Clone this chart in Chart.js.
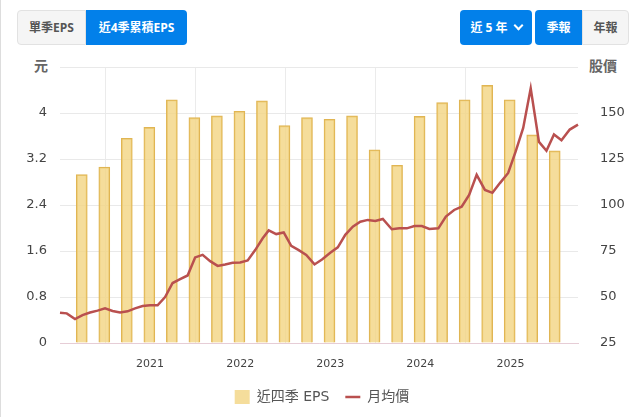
<!DOCTYPE html>
<html><head><meta charset="utf-8">
<style>
html,body{margin:0;padding:0;background:#fff;width:636px;height:417px;overflow:hidden}
body{position:relative;font-family:"DejaVu Sans","Noto Sans CJK TC",sans-serif}
#edge{position:absolute;left:0;top:0;bottom:0;width:1px;background:#dddddd}
canvas{position:absolute;left:0;top:0}
.b{position:absolute;top:10px;height:35px;line-height:35px;text-align:center;font-size:12px;font-weight:bold;box-sizing:border-box;font-family:"Open Sans","Noto Sans CJK TC",sans-serif}
.on{background:#0280ea;color:#fff}
.off{background:#f5f5f5;color:#555;border:1px solid #e2e2e2;line-height:33px}
.t{position:absolute;top:56px;font-size:14px;font-weight:bold;color:#666;font-family:"Noto Sans CJK TC",sans-serif;line-height:18px}
.chev{display:inline-block;width:5px;height:5px;border-right:2px solid #fff;border-bottom:2px solid #fff;transform:rotate(45deg);margin:0 0 3px 7px}
</style></head><body>
<div id="edge"></div>
<div class="b off" style="left:17px;width:69px;border-radius:4px 0 0 4px">單季EPS</div>
<div class="b on" style="left:86px;width:101px;border-radius:0 4px 4px 0">近4季累積EPS</div>
<div class="b on" style="left:460px;width:72px;border-radius:4px">近 5 年<span class="chev"></span></div>
<div class="b on" style="left:535px;width:47px;border-radius:4px 0 0 4px">季報</div>
<div class="b off" style="left:582px;width:47px;border-radius:0 4px 4px 0">年報</div>
<div class="t" style="left:34px">元</div>
<div class="t" style="left:589px">股價</div>
<canvas id="c" width="636" height="417" style="width:636px;height:417px"></canvas>
<script src="https://cdn.jsdelivr.net/npm/chart.js@4/dist/chart.umd.min.js"></script>
<script>
// months are counted from January 2020
const yearStart = 2020;
const epsMonths = [2.9,5.9,8.9,11.9,14.9,17.9,20.9,23.9,26.9,29.9,32.9,35.9,38.9,41.9,44.9,47.9,50.9,53.9,56.9,59.9,62.9,65.9];
const epsValues = [2.93,3.06,3.56,3.75,4.23,3.92,3.95,4.03,4.21,3.78,3.92,3.89,3.95,3.36,3.09,3.94,4.18,4.23,4.48,4.23,3.62,3.34];
const priceMonths = [0,0.9,2,3,4,5,6,7,8,9,10,11,12,13,14,15,16,17,18,19,20,21,22,23,24,25,26,27,27.8,28.8,29.8,30.8,31.8,32.8,33.9,34.9,36,37,38,39,40,41,42,43,44.2,45.2,46.2,47.2,48.2,49.2,50.4,51.4,52.5,53.5,54.5,55.5,56.6,57.6,58.6,59.7,60.7,61.7,62.7,63.8,64.8,65.8,66.8,67.9,69];
const priceValues = [41.5,41.1,38,40.2,41.6,42.6,43.8,42.4,41.6,42.2,43.8,45.1,45.5,45.5,50,57.6,59.7,61.7,71.5,72.9,69.5,66.9,67.7,68.6,68.8,69.9,75.5,81.9,86.2,84.2,85.1,77.8,75.5,72.9,67.7,70.4,74,77,83.8,88.2,90.9,91.9,91.3,92.4,86.8,87.3,87.3,88.6,88.6,87,87.3,93.7,97.3,99.1,105.5,116.4,108.2,106.6,111.9,117.4,129.1,141.9,163.4,134.3,129.5,138.3,135.2,141,143.7];
const epsLabel = "近四季 EPS", priceLabel = "月均價";
const epsTicks = {min:0,max:4.8,step:0.8}, priceTicks = {min:25,max:175,step:25};
const tickFont = {family:'"DejaVu Sans"',size:13};
const pair = (xs,ys)=>xs.map((x,i)=>({x,y:ys[i]}));
new Chart(document.getElementById('c'),{
  data:{datasets:[
    {type:'line',label:priceLabel,data:pair(priceMonths,priceValues),yAxisID:'y2',borderColor:'#b9504f',backgroundColor:'#b9504f',borderWidth:2.5,pointRadius:0,tension:0,order:1,pointStyle:'line',clip:false},
    {type:'bar',label:epsLabel,data:pair(epsMonths,epsValues),yAxisID:'y',backgroundColor:'rgba(242,212,130,0.8)',borderColor:'#e0b553',borderWidth:1.2,barThickness:11,order:2,pointStyle:'rect'}
  ]},
  options:{
    responsive:false,animation:false,devicePixelRatio:1,
    layout:{padding:{top:67,bottom:3,left:8,right:0}},
    plugins:{
      tooltip:{enabled:false},
      legend:{position:'bottom',reverse:true,labels:{usePointStyle:true,pointStyleWidth:15,font:{family:'"DejaVu Sans","Noto Sans CJK TC"',size:14},color:'#555',boxHeight:14,padding:16,
        generateLabels:ch=>Chart.defaults.plugins.legend.labels.generateLabels(ch).map(l=>{ if(l.pointStyle==='rect'){l.strokeStyle='transparent';l.lineWidth=0;} return l; })}}
    },
    scales:{
      x:{type:'linear',min:0,max:69,offset:false,
        grid:{drawTicks:false,color:c=>c.tick&&c.tick.value>0&&c.tick.value%12===0?'#ebebeb':'transparent'},
        border:{color:'#e6cdd6'},
        ticks:{stepSize:12,padding:15,maxRotation:0,autoSkip:false,color:'#444',font:{family:'"DejaVu Sans"',size:11},callback:v=>v>0&&v%12===0?String(yearStart+v/12):''},
        afterFit:s=>{s.height=31}},
      y:{position:'left',min:epsTicks.min,max:epsTicks.max,
        grid:{drawTicks:false,color:'#e9e9e9'},border:{display:false},
        ticks:{stepSize:epsTicks.step,padding:13,color:'#444',font:tickFont,callback:v=>v<4.7?String(+v.toFixed(1)):''},
        afterFit:s=>{s.width=52}},
      y2:{position:'right',min:priceTicks.min,max:priceTicks.max,
        grid:{display:false},border:{display:false},
        ticks:{stepSize:priceTicks.step,padding:14,color:'#444',font:tickFont,callback:v=>v<175?String(v):''},
        afterFit:s=>{s.width=58}}
    }
  }
});
</script>
</body></html>
